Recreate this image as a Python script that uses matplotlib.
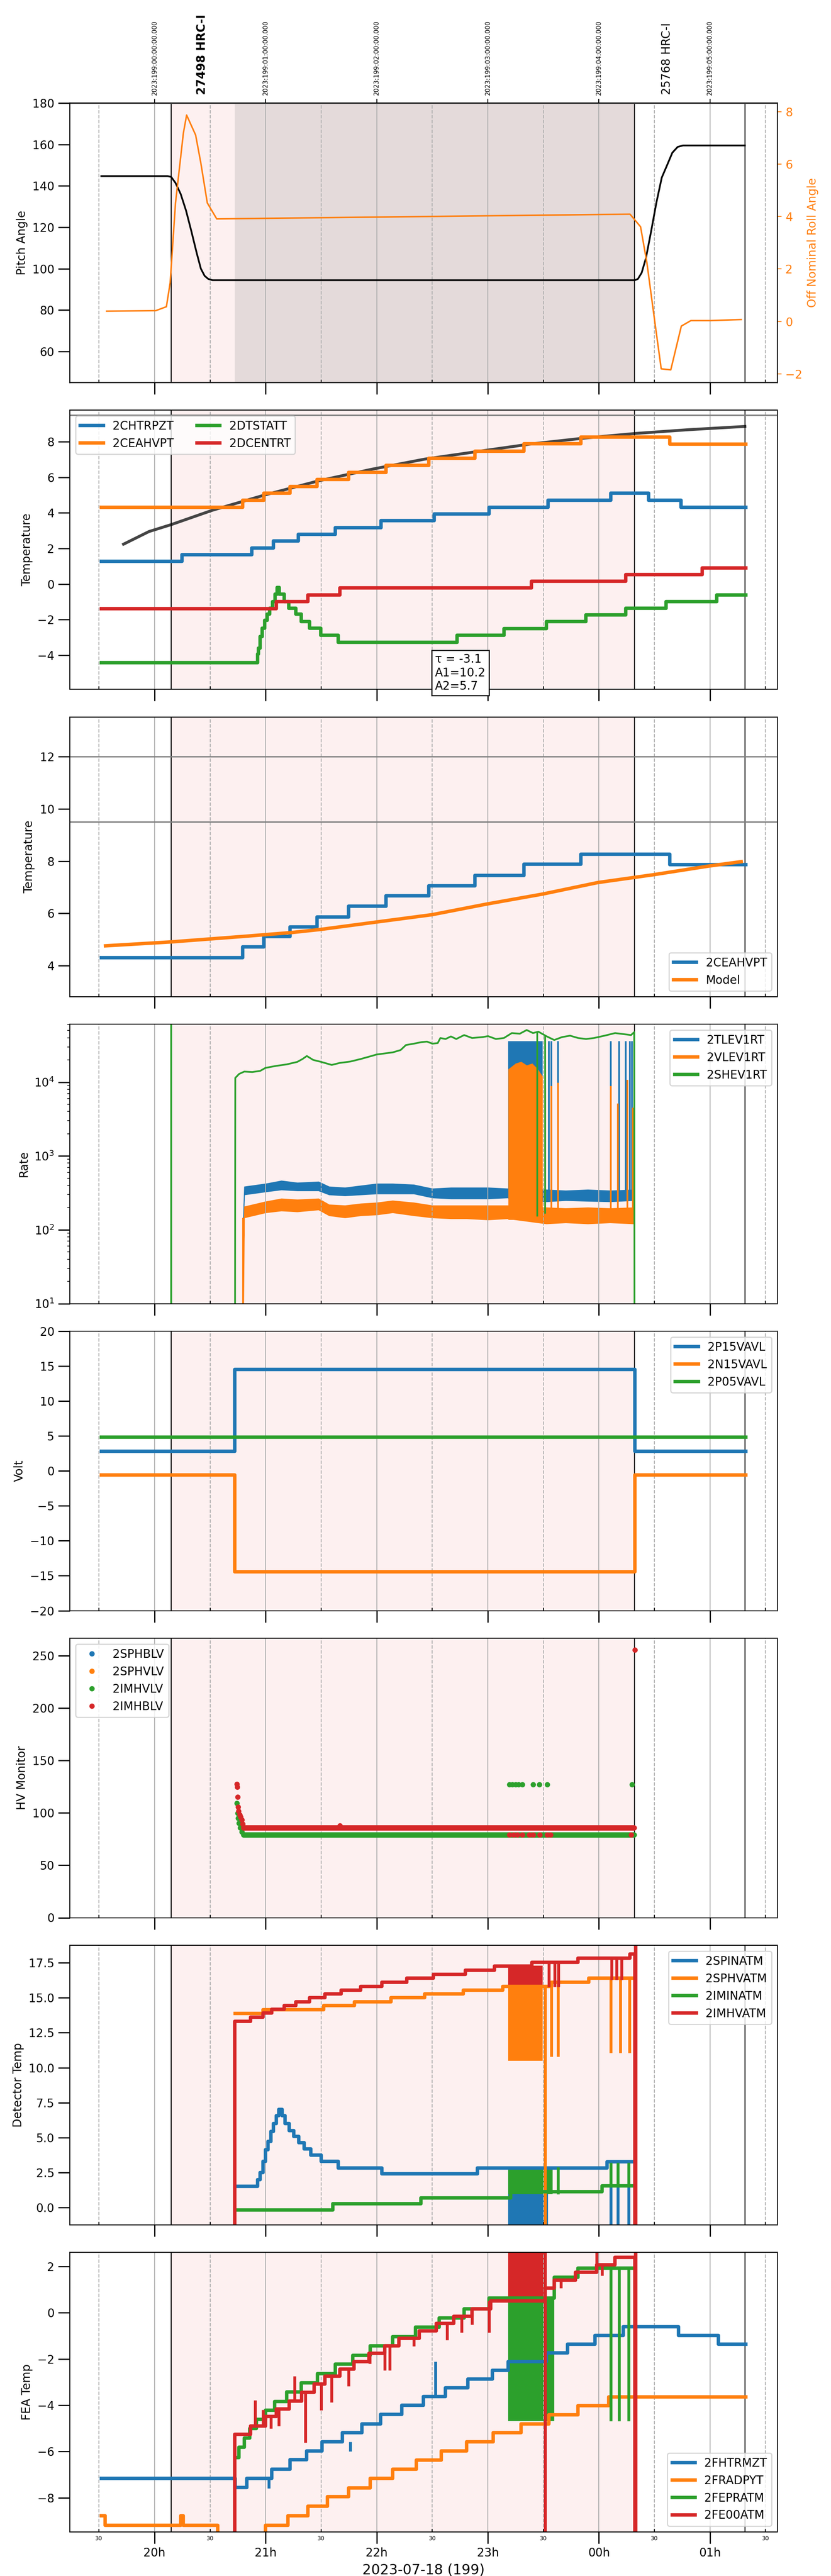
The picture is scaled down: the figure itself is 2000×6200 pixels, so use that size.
from datetime import datetime

import numpy as np
import matplotlib
matplotlib.use('Agg')
import matplotlib.pyplot as plt
import matplotlib.dates as mdates
from matplotlib.transforms import blended_transform_factory

# all times: hours after 2023-07-18 00:00 local (values > 24 are after midnight)
XLIM = [19.239, 25.606]
OBS_SPAN = [20.150, 24.322]
SLEW_SPAN = [20.723, 24.322]
VLINES = [20.150, 24.322, 25.314]
UTC_TICKS = [20, 21, 22, 23, 24, 25]
UTC_LABELS = ['2023:199:00:00:00.000', '2023:199:01:00:00.000', '2023:199:02:00:00.000',
              '2023:199:03:00:00.000', '2023:199:04:00:00.000', '2023:199:05:00:00.000']
OBSID_T = [20.427, 24.612]
OBSID_TXT = ['27498 HRC-I', '25768 HRC-I']
OBSID_WEIGHT = ['bold', 'normal']

# panel 1: pitch / roll
PITCH_T = [19.521, 20.117, 20.150, 20.189, 20.236, 20.284, 20.332, 20.379, 20.417, 20.451, 20.484, 20.522,
           24.323, 24.351, 24.385, 24.423, 24.470, 24.518, 24.566, 24.614, 24.661, 24.709, 24.757, 25.314]
PITCH_V = [144.7, 144.7, 144.3, 141.4, 136.0, 128.0, 118.0, 107.7, 100.0, 96.5, 95.0, 94.4,
           94.4, 95.0, 98.0, 105.0, 118.0, 132.0, 144.0, 150.0, 156.0, 158.8, 159.5, 159.5]
PITCH_LIMITS = [45, 180]
ROLL_T = [19.569, 20.012, 20.107, 20.141, 20.189, 20.260, 20.289, 20.370, 20.417, 20.475, 20.560,
          24.280, 24.375, 24.432, 24.504, 24.561, 24.647, 24.742, 24.828, 25.005, 25.281]
ROLL_V = [0.39, 0.41, 0.56, 1.48, 4.52, 7.19, 7.87, 7.11, 6.04, 4.52, 3.91,
          4.09, 3.61, 2.24, -0.04, -1.81, -1.85, -0.18, 0.03, 0.03, 0.07]

# panel 2/3: temperatures (step data)
CHTRPZT_T = [19.521, 20.246, 20.875, 21.071, 21.295, 21.629, 22.039, 22.516, 23.011, 23.541, 24.108, 24.447, 24.738, 25.324]
CHTRPZT_V = [1.27, 1.66, 2.03, 2.41, 2.80, 3.18, 3.56, 3.94, 4.32, 4.71, 5.10, 4.71, 4.31, 4.31]
CEAHVPT_T = [19.521, 20.794, 20.985, 21.219, 21.462, 21.748, 22.082, 22.468, 22.883, 23.326, 23.836, 24.637, 25.324]
CEAHVPT_V = [4.31, 4.72, 5.11, 5.49, 5.87, 6.27, 6.67, 7.06, 7.46, 7.88, 8.27, 7.87, 7.87]
DTSTATT_T = [19.521, 20.928, 20.937, 20.951, 20.971, 20.990, 21.014, 21.037, 21.061, 21.085, 21.104, 21.123,
             21.166, 21.209, 21.271, 21.319, 21.395, 21.495, 21.652, 22.725, 23.145, 23.527, 23.884, 24.242,
             24.604, 25.062, 25.324]
DTSTATT_V = [-4.43, -3.94, -3.61, -2.94, -2.49, -2.04, -1.70, -1.37, -0.99, -0.58, -0.19, -0.58,
             -0.99, -1.37, -1.70, -2.10, -2.49, -2.88, -3.27, -2.88, -2.51, -2.12, -1.74, -1.36,
             -0.99, -0.61, -0.61]
DCENTRT_T = [19.521, 21.095, 21.381, 21.667, 23.393, 24.242, 24.928, 25.324]
DCENTRT_V = [-1.38, -0.99, -0.61, -0.22, 0.15, 0.52, 0.90, 0.90]
FIT_T = [19.721, 19.950, 20.150, 20.522, 21.000, 21.476, 21.953, 22.430, 22.907, 23.383, 23.860, 24.337, 24.814, 25.314]
FIT_V = [2.24, 2.95, 3.34, 4.15, 5.02, 5.80, 6.45, 7.02, 7.45, 7.87, 8.20, 8.47, 8.68, 8.86]
FIT_TEXT = '\u03c4 = -3.1\nA1=10.2\nA2=5.7'
MODEL_T = [19.559, 20.150, 20.799, 21.238, 21.500, 21.996, 22.496, 22.992, 23.493, 23.989, 24.490, 24.986, 25.281]
MODEL_V = [4.76, 4.91, 5.12, 5.27, 5.39, 5.67, 5.95, 6.36, 6.74, 7.18, 7.48, 7.81, 7.98]
TEMP_LIMITS = [12.0, 9.5]

# panel 4: rates (noisy bands given as upper / lower envelopes)
RATE_T = [20.794, 20.808, 21.000, 21.142, 21.285, 21.476, 21.571, 21.714, 21.857, 22.000, 22.143,
          22.334, 22.501, 22.668, 22.811, 23.002, 23.178, 23.526, 23.700, 23.900, 24.100, 24.313]
TLEV_HI = [90, 384, 421, 462, 434, 448, 384, 372, 396, 421, 421, 408, 361, 372, 372, 372, 361, 349, 339, 349, 339, 349]
TLEV_LO = [60, 299, 328, 349, 339, 339, 299, 290, 299, 308, 308, 308, 272, 264, 264, 264, 272, 241, 250, 245, 241, 250]
VLEV_HI = [10, 206, 241, 264, 256, 264, 219, 213, 226, 233, 248, 233, 213, 213, 213, 213, 213, 200, 195, 200, 195, 200]
VLEV_LO = [1, 146, 171, 181, 176, 187, 156, 146, 156, 160, 171, 156, 146, 142, 142, 137, 142, 121, 125, 121, 125, 121]
TLEV_BLK_T = [23.183, 23.493]
TLEV_BLK_LO = [264, 264]
TLEV_BLK_HI = [3.6e4, 3.6e4]
VLEV_BLK_T = [23.183, 23.250, 23.300, 23.350, 23.400, 23.450, 23.493]
VLEV_BLK_LO = [137, 137, 137, 137, 137, 137, 137]
VLEV_BLK_HI = [1.5e4, 1.8e4, 1.9e4, 1.7e4, 1.8e4, 1.5e4, 1.2e4]
TLEV_SPK_T = [23.550, 23.574, 23.631, 24.108, 24.180, 24.242, 24.280, 24.299]
TLEV_SPK_LO = [250] * 8
TLEV_SPK_HI = [3.6e4] * 8
VLEV_SPK_T = [20.797, 23.517, 23.574, 23.631, 24.108, 24.170, 24.256, 24.304]
VLEV_SPK_LO = [1, 140, 140, 140, 140, 140, 140, 140]
VLEV_SPK_HI = [146, 8300, 8900, 9800, 8900, 5100, 10700, 4500]
SHEV_T = [20.149, 20.150, 20.151, 20.722,
          20.727, 20.761, 20.808, 20.880, 20.951, 20.999, 21.095, 21.190, 21.285, 21.333, 21.371, 21.428,
          21.500, 21.595, 21.667, 21.762, 21.857, 21.953, 22.000, 22.144, 22.215, 22.263, 22.334, 22.406,
          22.453, 22.501, 22.549, 22.573, 22.620, 22.668, 22.716, 22.787, 22.859, 22.954, 23.002, 23.073,
          23.145, 23.216, 23.288, 23.350, 23.407, 23.455, 23.526, 23.598, 23.669, 23.741, 23.813, 23.884,
          23.956, 24.051, 24.146, 24.218, 24.289, 24.318, 24.323]
SHEV_V = [0.001, 1e6, 0.001, 0.001,
          1.14e4, 1.29e4, 1.39e4, 1.37e4, 1.42e4, 1.56e4, 1.66e4, 1.74e4, 1.88e4, 2.06e4, 2.26e4, 2.00e4,
          1.88e4, 1.71e4, 1.82e4, 1.90e4, 2.06e4, 2.26e4, 2.37e4, 2.53e4, 2.72e4, 3.18e4, 3.32e4, 3.49e4,
          3.54e4, 3.32e4, 3.38e4, 3.96e4, 3.84e4, 4.16e4, 3.84e4, 4.34e4, 3.96e4, 4.08e4, 4.20e4, 3.84e4,
          3.96e4, 4.62e4, 4.53e4, 5.08e4, 4.62e4, 4.83e4, 4.20e4, 3.72e4, 4.08e4, 4.26e4, 3.96e4, 3.84e4,
          3.96e4, 4.26e4, 4.62e4, 4.48e4, 4.34e4, 4.76e4, 0.001]
SHEV_SPK_T = [23.445, 23.517]
SHEV_SPK_LO = [151, 165]
SHEV_SPK_HI = [4.8e4, 4.2e4]

# panel 5: voltages
V15_T = [19.521, 20.723, 24.323, 25.324]
P15_V = [2.83, 14.54, 2.83, 2.83]
N15_V = [-0.60, -14.46, -0.60, -0.60]
P05_T = [19.521, 25.324]
P05_V = [4.86, 4.86]

# panel 6: HV monitors (flat part sampled at telemetry cadence)
HV_DT = 0.004
IMHBLV_FLAT = [20.800, 24.320, 85.9]
IMHVLV_FLAT = [20.800, 24.320, 78.9]
IMHBLV_T = [20.742, 20.744, 20.747, 20.751, 20.756, 20.766, 20.775, 20.785, 20.794, 21.667,
            23.193, 23.231, 23.264, 23.312, 23.374, 23.407, 23.469, 23.536, 23.565, 24.289, 24.323]
IMHBLV_V = [127.4, 124.5, 115.0, 105.5, 101.7, 97.9, 96.0, 93.2, 89.4, 87.8,
            78.9, 78.9, 78.9, 78.9, 78.9, 78.9, 78.9, 78.9, 78.9, 78.9, 255.3]
IMHVLV_T = [20.742, 20.747, 20.751, 20.761, 20.770, 20.785,
            23.193, 23.221, 23.250, 23.278, 23.312, 23.407, 23.464, 23.536, 24.299]
IMHVLV_V = [109.3, 99.8, 95.0, 90.3, 85.6, 81.7, 127, 127, 127, 127, 127, 127, 127, 127, 127]

# panel 7: detector temps
SPINATM_T = [20.727, 20.928, 20.952, 20.975, 21.000, 21.023, 21.047, 21.071, 21.095, 21.118, 21.147, 21.176,
             21.214, 21.252, 21.300, 21.347, 21.405, 21.500, 21.652, 22.048, 22.907, 24.075, 24.313]
SPINATM_V = [1.50, 2.00, 2.50, 3.29, 4.14, 4.71, 5.43, 6.00, 6.57, 7.00, 6.57, 6.00,
             5.50, 5.07, 4.64, 4.19, 3.74, 3.29, 2.83, 2.40, 2.83, 3.26, 3.26]
SPHVATM_T = [20.727, 20.975, 21.524, 21.800, 22.129, 22.430, 22.778, 23.135, 23.574, 23.908, 24.299]
SPHVATM_V = [13.87, 14.15, 14.46, 14.71, 15.00, 15.29, 15.54, 15.81, 16.11, 16.41, 16.41]
IMINATM_T = [20.727, 21.605, 22.397, 23.207, 24.027, 24.299]
IMINATM_V = [-0.17, 0.26, 0.67, 1.11, 1.54, 1.54]
IMHVATM_T = [20.720, 20.723, 20.866, 20.975, 21.056, 21.166, 21.271, 21.395, 21.533, 21.681, 21.857,
             22.048, 22.272, 22.511, 22.797, 23.059, 23.398, 23.813, 24.280, 24.323, 24.330]
IMHVATM_V = [-5.0, 13.33, 13.61, 13.90, 14.17, 14.46, 14.73, 15.00, 15.29, 15.54, 15.83,
             16.11, 16.40, 16.69, 16.97, 17.26, 17.54, 17.83, 18.14, -5.0, 30.0]
SPINATM_BLK = [[23.183, 23.541], [-2.0, -2.0], [2.85, 2.85]]
SPHVATM_BLK = [[23.183, 23.493], [10.5, 10.5], [15.81, 15.81]]
IMINATM_BLK = [[23.183, 23.583], [0.95, 0.95], [2.89, 2.89]]
IMHVATM_BLK = [[23.183, 23.493], [15.8, 15.8], [17.3, 17.3]]
SPINATM_SPK = [[24.108, 24.170, 24.266], [-2.0, -2.0, -2.0], [3.26, 3.26, 3.26]]
SPHVATM_SPK = [[23.517, 23.574, 23.631, 24.108, 24.194, 24.275],
               [-2.0, 10.8, 10.8, 11.07, 11.07, 11.07],
               [15.81, 16.11, 16.11, 16.41, 16.41, 16.41]]
IMINATM_SPK = [[23.631, 24.108, 24.170, 24.266], [0.95, 1.54, 1.54, 1.54], [2.89, 3.2, 3.2, 3.2]]
IMHVATM_SPK = [[23.550, 23.603, 23.636, 24.113, 24.161, 24.204],
               [15.8, 15.8, 15.8, 16.3, 16.3, 16.3],
               [17.54, 17.54, 17.54, 17.83, 17.83, 17.83]]

# panel 8: FEA temps
FHTRMZT_T = [19.521, 20.727, 20.832, 21.056, 21.219, 21.371, 21.509, 21.691, 21.867, 22.034, 22.225, 22.420,
             22.620, 22.821, 23.040, 23.183, 23.526, 23.717, 23.965, 24.218, 24.718, 25.076, 25.324]
FHTRMZT_V = [-7.16, -7.56, -7.16, -6.76, -6.36, -5.97, -5.58, -5.18, -4.80, -4.40, -4.00, -3.62,
             -3.25, -2.87, -2.50, -2.12, -1.74, -1.36, -0.99, -0.61, -0.99, -1.36, -1.36]
FRADPYT_T = [19.521, 19.554, 20.236, 20.260, 20.570, 21.000, 21.200, 21.381, 21.557, 21.748, 21.943,
             22.143, 22.358, 22.582, 22.811, 23.049, 23.298, 23.550, 23.813, 24.089, 25.324]
FRADPYT_V = [-8.78, -9.19, -8.78, -9.19, -9.70, -9.19, -8.78, -8.36, -7.96, -7.58, -7.16,
             -6.77, -6.38, -5.97, -5.58, -5.18, -4.80, -4.42, -4.02, -3.65, -3.65]
FEPRATM_T = [20.727, 20.761, 20.808, 20.856, 20.918, 21.000, 21.080, 21.190, 21.319, 21.467, 21.629,
             21.786, 21.943, 22.143, 22.349, 22.563, 22.787, 23.011, 23.598, 23.813, 24.299]
FEPRATM_V = [-6.27, -5.81, -5.42, -5.01, -4.62, -4.22, -3.83, -3.43, -3.03, -2.64, -2.23,
             -1.84, -1.43, -1.03, -0.63, -0.22, 0.17, 0.64, 1.54, 1.93, 1.93]
FE00ATM_T = [20.720, 20.723, 20.866, 21.000, 21.095, 21.214, 21.324, 21.438, 21.533, 21.667, 21.795, 21.929,
             22.072, 22.201, 22.382, 22.535, 22.692, 22.859, 23.026, 23.517, 23.598, 23.789, 23.980, 24.146,
             24.323, 24.330]
FE00ATM_V = [-12.0, -5.25, -4.90, -4.49, -4.16, -3.82, -3.44, -3.08, -2.75, -2.44, -2.11, -1.76,
             -1.43, -1.10, -0.79, -0.47, -0.16, 0.17, 0.50, 1.07, 1.40, 1.75, 2.08, 2.39,
             -12.0, 12.0]
FHTRMZT_SPK = [[21.028, 21.762, 22.530], [-7.6, -6.0, -3.62], [-7.16, -5.58, -2.11]]
FEPRATM_BLK = [[23.183, 23.598], [-4.68, -4.68], [0.64, 0.64]]
FEPRATM_SPK = [[24.108, 24.180, 24.266], [-4.68, -4.68, -4.68], [1.93, 1.93, 1.93]]
FE00ATM_BLK = [[23.183, 23.517], [0.50, 0.50], [3.0, 3.0]]
FE00ATM_SPK = [[20.904, 20.975, 21.047, 21.118, 21.261, 21.357, 21.500, 21.595, 21.748, 21.939, 22.072,
                22.119, 22.334, 22.635, 22.764, 22.859, 23.011, 23.517, 23.660, 23.980, 24.027],
               [-4.90, -4.90, -5.00, -4.90, -3.82, -5.62, -4.21, -3.88, -3.17, -2.20, -2.50,
                -2.50, -1.45, -1.18, -0.85, -0.52, -0.85, -12.0, 1.07, 2.08, 1.60],
               [-3.79, -4.20, -4.49, -4.16, -2.75, -3.44, -3.08, -2.75, -2.44, -1.76, -1.43,
                -1.43, -1.10, -0.47, -0.16, 0.17, 0.50, 12.0, 1.40, 3.0, 2.08]]

BLUE, ORANGE, GREEN, RED = '#1f77b4', '#ff7f0e', '#2ca02c', '#d62728'
PINK = '#fdf0f0'
SLEW = '#e4dada'

T0 = mdates.date2num(datetime(2023, 7, 18))


def tx(h):
    return T0 + np.asarray(h, dtype=float) / 24.0


def frame(ax, last=False):
    ax.set_xlim(tx(XLIM[0]), tx(XLIM[1]))
    ax.xaxis.set_major_locator(mdates.HourLocator())
    ax.xaxis.set_minor_locator(mdates.MinuteLocator(byminute=[30]))
    ax.xaxis.set_major_formatter(mdates.DateFormatter('%Hh'))
    ax.xaxis.set_minor_formatter(mdates.DateFormatter('%M'))
    ax.tick_params(axis='both', which='major', direction='out', length=10, width=1.1, labelsize=10)
    ax.tick_params(axis='x', which='minor', direction='in', length=2.4, width=0.8, labelsize=5)
    ax.tick_params(axis='x', which='both', labelbottom=last)
    ax.grid(True, which='major', axis='x', color='#b0b0b0', lw=0.8)
    ax.grid(True, which='minor', axis='x', color='#b0b0b0', lw=0.8, ls='--')
    ax.axvspan(tx(OBS_SPAN[0]), tx(OBS_SPAN[1]), color=PINK, lw=0, zorder=0)
    for v in VLINES:
        ax.axvline(tx(v), color='k', lw=0.8)


def steps(ax, t, v, color, label=None, lw=3):
    ax.plot(tx(t), v, drawstyle='steps-post', color=color, lw=lw, label=label)


def block(ax, blk, color):
    ax.fill_between(tx(blk[0]), blk[1], blk[2], color=color, lw=0)


def spikes(ax, spk, color, lw=2.5):
    ax.vlines(tx(spk[0]), spk[1], spk[2], color=color, lw=lw)


plt.rcParams['font.size'] = 10
fig = plt.figure(figsize=(10, 31), dpi=200)
axes = []
for i in range(8):
    top = 248 + 739 * i
    axes.append(fig.add_axes([0.0842, 1 - (top + 672.5) / 6200, 0.8512, 672.5 / 6200]))
for i, ax in enumerate(axes):
    frame(ax, last=(i == 7))

# ---- panel 1
ax = axes[0]
ax.axvspan(tx(SLEW_SPAN[0]), tx(SLEW_SPAN[1]), color=SLEW, lw=0, zorder=0.5)
for y in PITCH_LIMITS:
    ax.axhline(y, color='gray', lw=1.5)
ax.plot(tx(PITCH_T), PITCH_V, color='k', lw=1.5)
ax.set_ylim(45, 180)
ax.set_ylabel('Pitch Angle')
ax2 = ax.twinx()
ax2.plot(tx(ROLL_T), ROLL_V, color=ORANGE, lw=1.3)
ax2.set_ylim(-2.33, 8.33)
ax2.set_ylabel('Off Nominal Roll Angle', color=ORANGE)
ax2.tick_params(axis='y', colors=ORANGE, labelsize=10)
sec = ax.secondary_xaxis('top')
sec.set_ticks(tx(UTC_TICKS), labels=UTC_LABELS)
sec.tick_params(axis='x', labelsize=5.5, labelrotation=90)
trans = blended_transform_factory(ax.transData, ax.transAxes)
for t, s, w in zip(OBSID_T, OBSID_TXT, OBSID_WEIGHT):
    ax.text(tx(t), 1.03, s, transform=trans, rotation=90, ha='center', va='bottom',
            fontsize=10, fontweight=w)

# ---- panel 2
ax = axes[1]
for y in TEMP_LIMITS:
    ax.axhline(y, color='gray', lw=1.2)
ax.plot(tx(FIT_T), FIT_V, color='#444444', lw=2.5, zorder=1.8)
steps(ax, CHTRPZT_T, CHTRPZT_V, BLUE, '2CHTRPZT')
steps(ax, CEAHVPT_T, CEAHVPT_V, ORANGE, '2CEAHVPT')
steps(ax, DTSTATT_T, DTSTATT_V, GREEN, '2DTSTATT')
steps(ax, DCENTRT_T, DCENTRT_V, RED, '2DCENTRT')
ax.set_ylim(-5.93, 9.78)
ax.set_ylabel('Temperature')
ax.legend(loc='upper left', ncol=2)
ax.text(tx(22.525), -5.0, FIT_TEXT, ha='left', va='center', fontsize=10,
        bbox=dict(boxstyle='square', facecolor='white', edgecolor='black'))

# ---- panel 3
ax = axes[2]
for y in TEMP_LIMITS:
    ax.axhline(y, color='gray', lw=1.2)
steps(ax, CEAHVPT_T, CEAHVPT_V, BLUE, '2CEAHVPT')
ax.plot(tx(MODEL_T), MODEL_V, color=ORANGE, lw=3, label='Model')
ax.set_ylim(2.82, 13.51)
ax.set_ylabel('Temperature')
ax.legend(loc='lower right')

# ---- panel 4
ax = axes[3]
ax.set_yscale('log')
ax.fill_between(tx(RATE_T), TLEV_LO, TLEV_HI, color=BLUE, lw=0.6)
block(ax, [TLEV_BLK_T, TLEV_BLK_LO, TLEV_BLK_HI], BLUE)
spikes(ax, [TLEV_SPK_T, TLEV_SPK_LO, TLEV_SPK_HI], BLUE, lw=1.5)
ax.fill_between(tx(RATE_T), VLEV_LO, VLEV_HI, color=ORANGE, lw=0.6)
block(ax, [VLEV_BLK_T, VLEV_BLK_LO, VLEV_BLK_HI], ORANGE)
spikes(ax, [VLEV_SPK_T, VLEV_SPK_LO, VLEV_SPK_HI], ORANGE, lw=1.5)
ax.plot(tx(SHEV_T), SHEV_V, color=GREEN, lw=1.5)
spikes(ax, [SHEV_SPK_T, SHEV_SPK_LO, SHEV_SPK_HI], GREEN, lw=1.5)
ax.plot([], [], color=BLUE, lw=3, label='2TLEV1RT')
ax.plot([], [], color=ORANGE, lw=3, label='2VLEV1RT')
ax.plot([], [], color=GREEN, lw=3, label='2SHEV1RT')
ax.set_ylim(10, 6.1e4)
ax.set_ylabel('Rate')
ax.legend(loc='upper right')

# ---- panel 5
ax = axes[4]
steps(ax, V15_T, P15_V, BLUE, '2P15VAVL')
steps(ax, V15_T, N15_V, ORANGE, '2N15VAVL')
steps(ax, P05_T, P05_V, GREEN, '2P05VAVL')
ax.set_ylim(-20, 20)
ax.set_ylabel('Volt')
ax.legend(loc='upper right')

# ---- panel 6
ax = axes[5]
ms = 3.6
ax.plot([], [], 'o', color=BLUE, ms=ms, label='2SPHBLV')
ax.plot([], [], 'o', color=ORANGE, ms=ms, label='2SPHVLV')
flat_g = np.arange(IMHVLV_FLAT[0], IMHVLV_FLAT[1], HV_DT)
ax.plot(tx(np.concatenate([IMHVLV_T, flat_g])),
        np.concatenate([IMHVLV_V, np.full(flat_g.size, IMHVLV_FLAT[2])]),
        'o', color=GREEN, ms=ms, label='2IMHVLV')
flat_r = np.arange(IMHBLV_FLAT[0], IMHBLV_FLAT[1], HV_DT)
ax.plot(tx(np.concatenate([flat_r, IMHBLV_T])),
        np.concatenate([np.full(flat_r.size, IMHBLV_FLAT[2]), IMHBLV_V]),
        'o', color=RED, ms=ms, label='2IMHBLV')
ax.set_ylim(0, 266.5)
ax.set_ylabel('HV Monitor')
ax.legend(loc='upper left')

# ---- panel 7
ax = axes[6]
steps(ax, SPINATM_T, SPINATM_V, BLUE, '2SPINATM')
block(ax, SPINATM_BLK, BLUE)
spikes(ax, SPINATM_SPK, BLUE)
steps(ax, SPHVATM_T, SPHVATM_V, ORANGE, '2SPHVATM')
block(ax, SPHVATM_BLK, ORANGE)
spikes(ax, SPHVATM_SPK, ORANGE)
steps(ax, IMINATM_T, IMINATM_V, GREEN, '2IMINATM')
block(ax, IMINATM_BLK, GREEN)
spikes(ax, IMINATM_SPK, GREEN)
steps(ax, IMHVATM_T, IMHVATM_V, RED, '2IMHVATM')
block(ax, IMHVATM_BLK, RED)
spikes(ax, IMHVATM_SPK, RED)
ax.set_ylim(-1.24, 18.76)
ax.set_ylabel('Detector Temp')
ax.legend(loc='upper right')

# ---- panel 8
ax = axes[7]
steps(ax, FHTRMZT_T, FHTRMZT_V, BLUE, '2FHTRMZT')
spikes(ax, FHTRMZT_SPK, BLUE)
steps(ax, FRADPYT_T, FRADPYT_V, ORANGE, '2FRADPYT')
steps(ax, FEPRATM_T, FEPRATM_V, GREEN, '2FEPRATM')
block(ax, FEPRATM_BLK, GREEN)
spikes(ax, FEPRATM_SPK, GREEN)
steps(ax, FE00ATM_T, FE00ATM_V, RED, '2FE00ATM')
block(ax, FE00ATM_BLK, RED)
spikes(ax, FE00ATM_SPK, RED)
ax.set_ylim(-9.47, 2.61)
ax.set_ylabel('FEA Temp')
ax.set_xlabel('2023-07-18 (199)', fontsize=12)
ax.legend(loc='lower right')

fig.savefig('out.png', dpi=200)
